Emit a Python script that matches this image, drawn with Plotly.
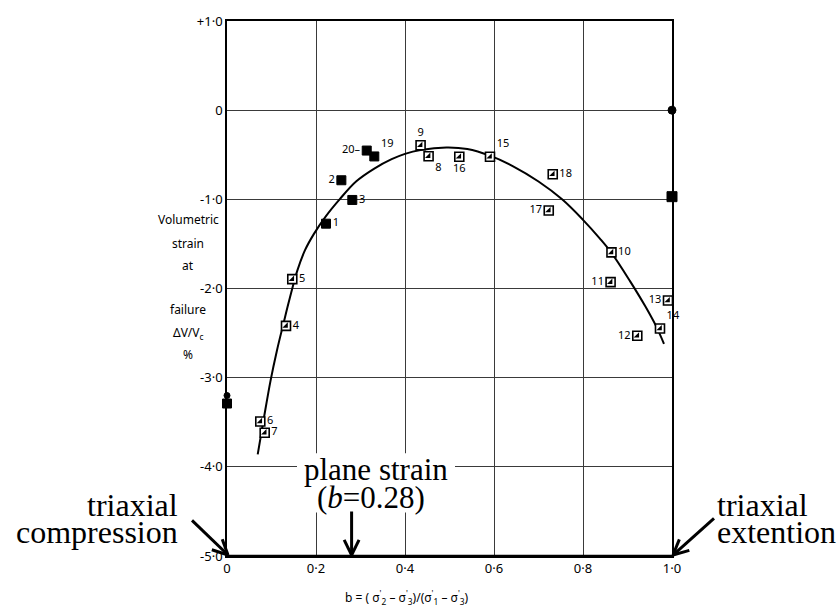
import math
import plotly.graph_objects as go

# ---------------- data ----------------
filled_ids = ["1", "2", "3", "19", "20"]
filled_b = [0.2225, 0.257, 0.2816, 0.331, 0.314]
filled_dv = [-1.273, -0.786, -1.007, -0.519, -0.453]

half_ids = ["4", "5", "6", "7", "8", "9", "10", "11", "12", "13", "14", "15", "16", "17", "18"]
half_b = [0.1326, 0.1467, 0.0748, 0.0847, 0.453, 0.435, 0.864, 0.862, 0.922, 0.991, 0.973,
          0.591, 0.522, 0.723, 0.732]
half_dv = [-2.419, -1.895, -3.491, -3.617, -0.516, -0.394, -1.595, -1.928, -2.530, -2.135,
           -2.449, -0.523, -0.523, -1.126, -0.719]

axis_b = [0.0, 0.0, 1.0, 1.0]
axis_dv = [-3.29, -3.20, 0.0, -0.97]

curve_b = [0.069, 0.083, 0.098, 0.112, 0.127, 0.141, 0.158, 0.1753, 0.195, 0.222, 0.253,
           0.29, 0.331, 0.37, 0.40, 0.435, 0.493, 0.54, 0.591, 0.643, 0.70, 0.753, 0.80,
           0.838, 0.864, 0.906, 0.94, 0.965, 0.982]
curve_dv = [-3.86, -3.45, -3.03, -2.70, -2.39, -2.11, -1.80, -1.57, -1.39, -1.19, -1.0,
            -0.80, -0.655, -0.55, -0.49, -0.447, -0.418, -0.435, -0.51, -0.63, -0.80, -1.0,
            -1.23, -1.44, -1.60, -1.92, -2.20, -2.43, -2.62]

x_tickvals = [0, 0.2, 0.4, 0.6, 0.8, 1.0]
x_ticktext = ["0", "0·2", "0·4", "0·6", "0·8", "1·0"]
y_tickvals = [1, 0, -1, -2, -3, -4, -5]
y_ticktext = ["+1·0", "0", "-1·0", "-2·0", "-3·0", "-4·0", "-5·0"]

plane_strain_b = 0.28

# ---------------- layout geometry ----------------
W, H = 839, 612
L, R, T, B = 227, 167, 15, 56
PW, PH = W - L - R, H - T - B


def px2paper(px, py):
    return (px - L) / PW, (H - B - py) / PH


label_pos = {"1": "middle right", "2": "middle left", "3": "middle right", "19": "top right",
             "20": "middle left", "4": "middle right", "5": "middle right", "6": "middle right",
             "7": "middle right", "8": "bottom right", "9": "top center", "10": "middle right",
             "11": "middle left", "12": "middle left", "13": "middle left", "14": "top right",
             "15": "top right", "16": "bottom center", "17": "middle left", "18": "middle right"}
label_show = {"20": "20–"}

sans = "Noto Sans"
serif = "Liberation Serif"

fig = go.Figure()

# fitted curve
fig.add_trace(go.Scatter(x=curve_b, y=curve_dv, mode="lines",
                         line=dict(color="black", width=2, shape="spline", smoothing=1.0),
                         hoverinfo="skip", showlegend=False))

# half-filled squares: open square + filled corner
fig.add_trace(go.Scatter(x=half_b, y=half_dv, mode="markers+text",
                         text=[label_show.get(i, i) for i in half_ids],
                         textposition=[label_pos[i] for i in half_ids],
                         textfont=dict(family=sans, size=11, color="black"),
                         marker=dict(symbol="square", size=9, color="white",
                                     line=dict(color="black", width=1.6)),
                         cliponaxis=False, showlegend=False))
fig.add_trace(go.Scatter(x=half_b, y=half_dv, mode="markers",
                         marker=dict(symbol="triangle-se", size=6, color="black",
                                     line=dict(width=0)),
                         cliponaxis=False, showlegend=False, hoverinfo="skip"))

# filled squares
fig.add_trace(go.Scatter(x=filled_b, y=filled_dv, mode="markers+text",
                         text=[label_show.get(i, i) for i in filled_ids],
                         textposition=[label_pos[i] for i in filled_ids],
                         textfont=dict(family=sans, size=11, color="black"),
                         marker=dict(symbol="square", size=9, color="black",
                                     line=dict(color="black", width=1)),
                         cliponaxis=False, showlegend=False))

# markers sitting on the axes
fig.add_trace(go.Scatter(x=axis_b, y=axis_dv, mode="markers+text", text=["", "", "", ""],
                         opacity=1,
                         marker=dict(symbol=["square", "circle", "circle", "square"],
                                     size=[9, 6, 8, 10], color="#000000", opacity=1,
                                     line=dict(color="#000000", width=1)),
                         cliponaxis=False, showlegend=False))

shapes = []
# white patch behind "plane strain" text
x0, y0 = px2paper(297, 512)
x1, y1 = px2paper(455, 452)
shapes.append(dict(type="rect", xref="paper", yref="paper", x0=x0, y0=y0, x1=x1, y1=y1,
                   fillcolor="white", line=dict(width=0), layer="above"))
# thicker bottom axis line
shapes.append(dict(type="line", xref="paper", yref="paper", x0=0, y0=0, x1=1, y1=0,
                   line=dict(color="black", width=2.5), layer="above"))


def arrow(tip, tail, head=17, ang=26):
    tx, ty = tip
    sx, sy = tail
    d = math.atan2(sy - ty, sx - tx)
    out = []
    a0, b0 = px2paper(sx, sy)
    a1, b1 = px2paper(tx, ty)
    out.append(dict(type="line", xref="paper", yref="paper", x0=a0, y0=b0, x1=a1, y1=b1,
                    line=dict(color="black", width=3), layer="above"))
    for s in (-1, 1):
        th = d + s * math.radians(ang)
        hx, hy = tx + head * math.cos(th), ty + head * math.sin(th)
        c0, e0 = px2paper(hx, hy)
        out.append(dict(type="line", xref="paper", yref="paper", x0=c0, y0=e0, x1=a1, y1=b1,
                        line=dict(color="black", width=3), layer="above"))
    return out


bx = L + plane_strain_b * PW
shapes += arrow((bx, H - B - 1), (bx, 511))
shapes += arrow((L + 1, H - B - 1), (192, 520))
shapes += arrow((L + PW + 1, H - B - 1), (714, 518))

ann = []


def txt(text, px, py, size, family, xanchor="center"):
    xp, yp = px2paper(px, py)
    ann.append(dict(text=text, x=xp, y=yp, xref="paper", yref="paper", showarrow=False,
                    xanchor=xanchor, yanchor="middle",
                    font=dict(family=family, size=size, color="black")))


txt("plane strain", 376, 469, 31, serif)
txt("(<i>b</i>=0.28)", 371, 497, 31, serif)
txt("triaxial", 180, 504, 32, serif, "right")
txt("compression", 180, 532, 32, serif, "right")
txt("triaxial", 715, 504, 32, serif, "left")
txt("extention", 715, 532, 32, serif, "left")

for t, yy in [("Volumetric", 216), ("strain", 240), ("at", 262), ("failure", 307),
              ("ΔV/V<sub>c</sub>", 330), ("%", 352)]:
    txt(t, 188, yy, 12, sans)

txt("b = ( σ<sup>'</sup><sub>2</sub> – σ<sup>'</sup><sub>3</sub>)/(σ<sup>'</sup><sub>1</sub> – "
    "σ<sup>'</sup><sub>3</sub>)", 407, 598, 12, sans)

fig.update_layout(
    width=W, height=H,
    margin=dict(l=L, r=R, t=T, b=B, pad=0),
    paper_bgcolor="white", plot_bgcolor="white",
    shapes=shapes, annotations=ann, showlegend=False,
    xaxis=dict(range=[0, 1], tickvals=x_tickvals, ticktext=x_ticktext,
               showgrid=True, gridcolor="#3a3a3a", gridwidth=1.3, zeroline=False,
               showline=True, linecolor="black", linewidth=1.6, mirror=True,
               ticks="", tickfont=dict(family=sans, size=13, color="black")),
    yaxis=dict(range=[-5, 1], tickvals=y_tickvals, ticktext=y_ticktext,
               showgrid=True, gridcolor="#3a3a3a", gridwidth=1.3, zeroline=False,
               showline=True, linecolor="black", linewidth=1.6, mirror=True,
               ticks="", tickfont=dict(family=sans, size=13, color="black")),
)

fig.write_html("out.html")
